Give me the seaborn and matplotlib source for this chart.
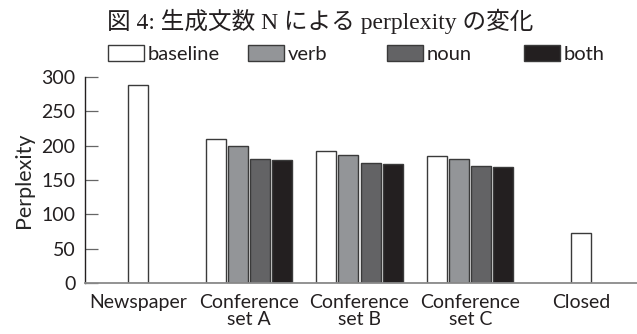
import matplotlib
matplotlib.use("Agg")
import matplotlib.pyplot as plt
from matplotlib.patches import Patch
import pandas as pd
import seaborn as sns

# values
categories = ["Newspaper", "Conference\nset A", "Conference\nset B", "Conference\nset C", "Closed"]
methods = ["baseline", "verb", "noun", "both"]

# Newspaper and Closed only have a baseline bar
single_cats = ["Newspaper", "Closed"]
single_vals = [289, 73]

conf_cats = ["Conference\nset A", "Conference\nset B", "Conference\nset C"]
baseline = [210, 192, 185]
verb = [199, 186, 180]
noun = [181, 175, 171]
both = [179, 174, 169]

colors = {"baseline": "#ffffff", "verb": "#939598", "noun": "#636365", "both": "#231f20"}

title = "図 4: 生成文数 N による perplexity の変化"

sns.set_style("ticks")
plt.rcParams["font.family"] = ["Lato", "DejaVu Sans"]

single_df = pd.DataFrame({"category": single_cats, "perplexity": single_vals})
rows = []
for name, vals in zip(methods, [baseline, verb, noun, both]):
    for cat, v in zip(conf_cats, vals):
        rows.append({"category": cat, "method": name, "perplexity": v})
conf_df = pd.DataFrame(rows)

fig = plt.figure(figsize=(6.37, 3.34), dpi=100)
ax = fig.add_axes([85 / 637, 51 / 334, 552 / 637, 206 / 334])

edge = "#3a3a3a"
sns.barplot(data=single_df, x="category", y="perplexity", order=categories,
            color="white", width=0.18, edgecolor=edge, linewidth=1.0,
            saturation=1, ax=ax)
sns.barplot(data=conf_df, x="category", y="perplexity", hue="method",
            order=categories, hue_order=methods, palette=colors,
            width=0.8, gap=0.1, edgecolor=edge, linewidth=1.0,
            saturation=1, legend=False, ax=ax)

ax.set_xlim(-0.479, 4.506)
ax.set_ylim(0, 300)
ax.set_yticks(range(0, 301, 50))
ax.set_xlabel("")
ax.set_ylabel("Perplexity", fontsize=15.5, labelpad=5)

for s in ["top", "right"]:
    ax.spines[s].set_visible(False)
ax.spines["left"].set_color("#231f20")
ax.spines["left"].set_linewidth(1.0)
ax.spines["bottom"].set_color("#8a8a8a")
ax.spines["bottom"].set_linewidth(1.3)

ax.tick_params(axis="y", direction="in", length=9.5, width=0.9, color="#666666",
               pad=7, labelsize=14, labelcolor="#231f20")
ax.tick_params(axis="x", length=0, pad=8, labelsize=14, labelcolor="#231f20")
for lab in ax.get_xticklabels():
    lab.set_linespacing(1.0)

# legend entries sit at fixed slots above the axes
box_x = [108, 248, 387, 524]
for name, x in zip(methods, box_x):
    h = Patch(facecolor=colors[name], edgecolor=edge, linewidth=1.0)
    leg = fig.legend([h], [name], loc="center left",
                     bbox_to_anchor=(x / 637, 1 - 54 / 334),
                     frameon=False, fontsize=14.5, borderpad=0, borderaxespad=0,
                     handlelength=1.8, handleheight=0.85, handletextpad=0.15)
    for t in leg.get_texts():
        t.set_color("#231f20")

fig.text(0.503, 1 - 21 / 334, title, ha="center", va="center", fontsize=17,
         family=["Liberation Serif", "Noto Sans CJK JP"], color="#231f20")

fig.savefig("out.png", dpi=100)
